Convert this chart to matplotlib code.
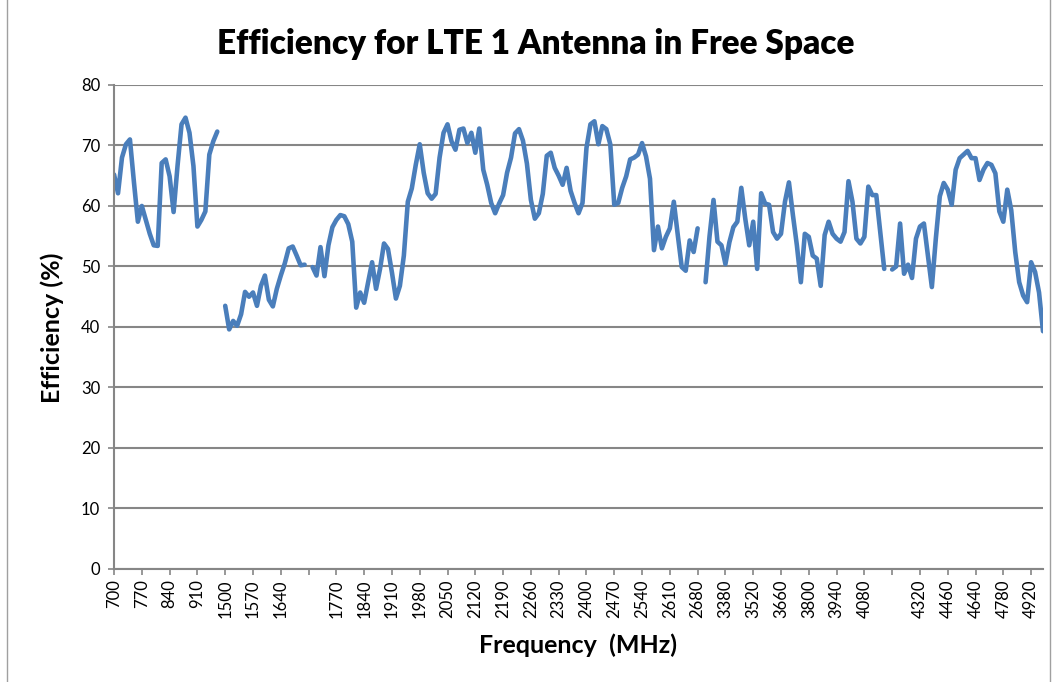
import numpy as np
import matplotlib
matplotlib.use('Agg')
import matplotlib.pyplot as plt
from matplotlib.patches import Rectangle

plt.rcParams['font.family'] = ['Lato', 'DejaVu Sans']

# efficiency (%) per measured frequency, one list per band
eff_700 = [65.2, 62.1, 68.0, 70.2, 71.0, 64.0, 57.4, 60.0, 57.7, 55.4,
           53.5, 53.4, 67.1, 67.7, 64.9, 59.0, 66.7, 73.5, 74.6, 72.1,
           66.6, 56.6, 57.7, 59.1, 68.5, 70.7, 72.3]
eff_1500 = [43.5, 39.6, 41.0, 40.2, 42.1, 45.8, 45.0, 45.7, 43.5, 46.8,
            48.5, 44.5, 43.4, 46.3, 48.5, 50.5, 53.0, 53.3, 51.8, 50.2,
            50.3]
eff_1710 = [49.9, 48.5, 53.2, 48.4, 53.5, 56.5, 57.7, 58.5, 58.3, 57.0,
            54.1, 43.2, 45.7, 44.0, 47.4, 50.7, 46.3, 49.6, 53.8, 52.9,
            49.0, 44.7, 46.8, 51.8, 60.7, 62.9, 66.8, 70.2, 65.5, 62.1,
            61.2, 62.0, 68.0, 72.1, 73.5, 70.7, 69.3, 72.6, 72.8, 70.4,
            72.1, 68.8, 72.8, 66.0, 63.5, 60.5, 58.8, 60.4, 61.8, 65.5,
            68.0, 72.0, 72.7, 70.8, 67.0, 61.0, 57.9, 58.8, 62.0, 68.3,
            68.8, 66.3, 65.0, 63.5, 66.3, 62.5, 60.5, 58.8, 60.5, 69.6,
            73.5, 74.0, 70.2, 73.2, 72.7, 70.2, 60.2, 60.5, 63.0, 64.9,
            67.7, 68.0, 68.5, 70.4, 68.2, 64.5, 52.7, 56.6, 53.0, 54.9,
            56.3, 60.7, 55.2, 49.9, 49.3, 54.3, 52.4, 56.3]
eff_3300 = [47.4, 55.0, 61.0, 54.1, 53.5, 50.4, 54.0, 56.5, 57.4, 63.0,
            57.9, 53.5, 57.4, 49.6, 62.1, 60.4, 60.2, 55.7, 54.6, 55.4,
            60.7, 63.9, 58.5, 53.5, 47.4, 55.4, 54.9, 51.8, 51.3, 46.8,
            55.2, 57.4, 55.4, 54.6, 54.1, 55.7, 64.1, 60.7, 54.6, 53.8,
            54.9, 63.2, 61.8, 61.8, 55.7, 49.6]
eff_4200 = [49.5, 50.0, 57.1, 48.8, 50.3, 48.1, 54.6, 56.6, 57.1, 51.8,
            46.6, 54.6, 61.6, 63.8, 62.7, 60.2, 66.0, 67.9, 68.5, 69.1,
            67.9, 67.9, 64.3, 66.0, 67.1, 66.8, 65.4, 59.1, 57.4, 62.7,
            59.3, 52.4, 47.4, 45.2, 44.1, 50.7, 49.1, 45.7, 39.3]

# category labels shown on the axis (every 7th category, blanks where empty)
tick_labels = ['700', '770', '840', '910', '1500', '1570', '1640', '',
               '1770', '1840', '1910', '1980', '2050', '2120', '2190', '2260',
               '2330', '2400', '2470', '2540', '2610', '2680', '3380', '3520',
               '3660', '3800', '3940', '4080', '', '4320', '4460', '4640',
               '4780', '4920']
label_step = 7

# blank rows between bands break the line
gap = [np.nan]
values = np.array(eff_700 + gap + eff_1500 + gap + eff_1710 + gap
                  + eff_3300 + gap + eff_4200)
x = np.arange(len(values))

fig = plt.figure(figsize=(10.56, 6.82), dpi=100)
ax = fig.add_axes([0.108, 0.1657, 0.8797, 0.7097])

ax.plot(x, values, color='#4A7EBB', linewidth=3.3, solid_joinstyle='round',
        solid_capstyle='round')

ax.set_xlim(0, len(values) - 1)
ax.set_ylim(0, 80)
ax.set_yticks(range(0, 81, 10))
ax.grid(axis='y', color='#868686', linewidth=1.5)
ax.set_axisbelow(True)

ax.set_xticks(x[::label_step])
ax.set_xticklabels(tick_labels, rotation=90)

for side in ['top', 'right']:
    ax.spines[side].set_visible(False)
for side in ['left', 'bottom']:
    ax.spines[side].set_color('#868686')
    ax.spines[side].set_linewidth(1.5)
ax.tick_params(axis='both', colors='#868686', length=4, width=1.2,
               labelcolor='black', labelsize=12)
ax.tick_params(axis='y', pad=6)

fig.text(0.507, 0.936, 'Efficiency for LTE 1 Antenna in Free Space',
         ha='center', va='center', fontsize=24, fontweight='heavy')
fig.text(0.049, 0.52, 'Efficiency (%)', rotation=90, ha='center',
         va='center', fontsize=18, fontweight='bold')
fig.text(0.547, 0.054, 'Frequency  (MHz)', ha='center', va='center',
         fontsize=18, fontweight='bold')

# chart area border
fig.patches.append(Rectangle((7 / 1056, -0.05), 1043 / 1056, 1.1,
                             transform=fig.transFigure, fill=False,
                             edgecolor='#A0A0A0', linewidth=1.0))

fig.savefig('out.png', dpi=100)
